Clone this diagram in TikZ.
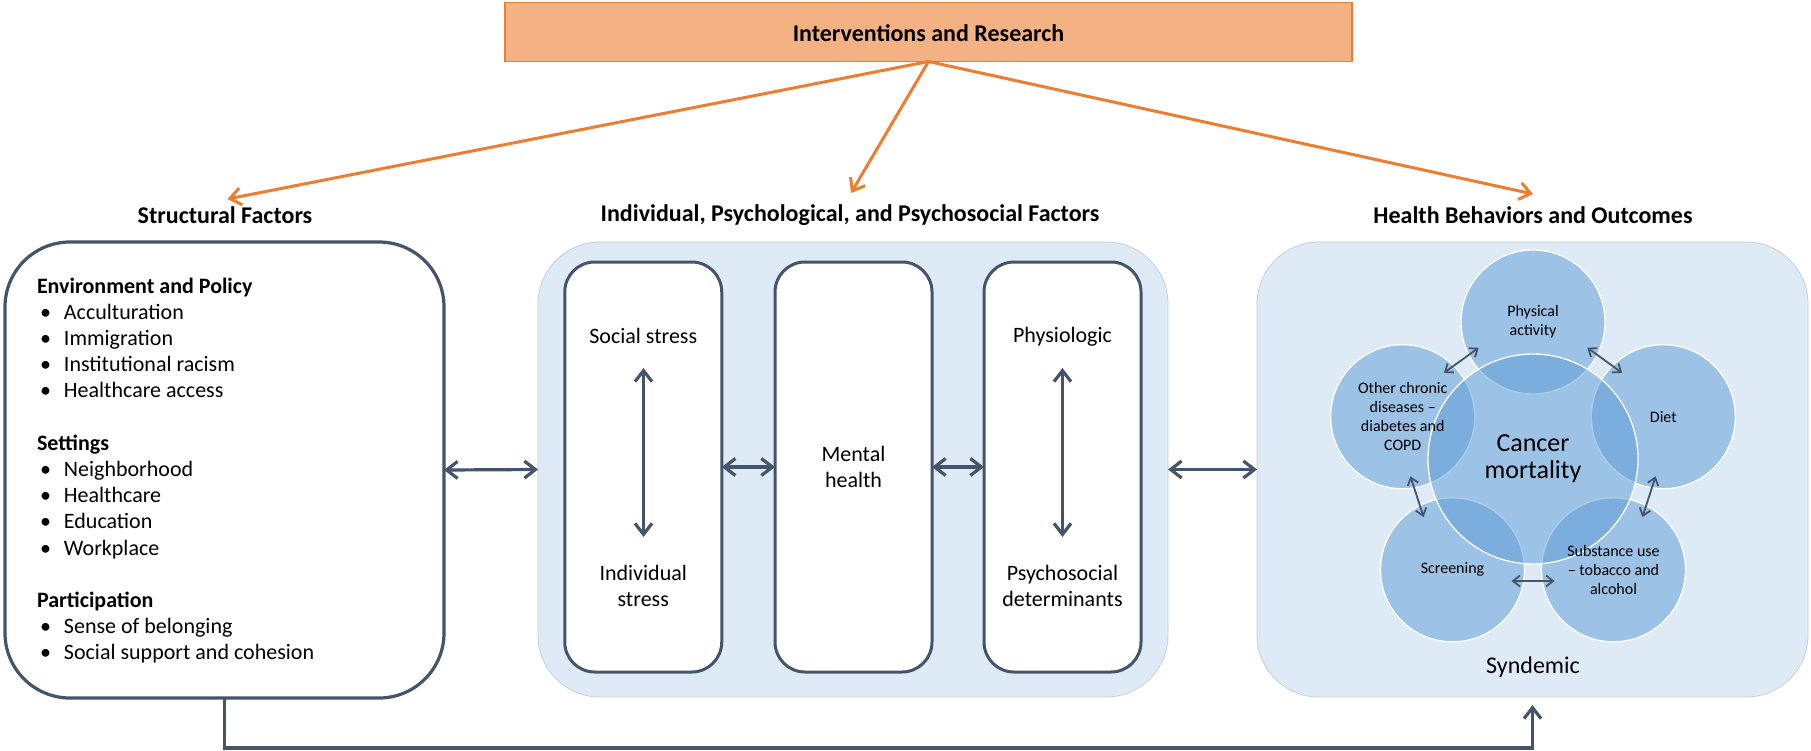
\documentclass[tikz,border=0pt]{standalone}
\usepackage{fontspec}
\setmainfont{Carlito}
\usetikzlibrary{arrows.meta,calc}
\definecolor{dk}{HTML}{44546A}
\definecolor{org}{HTML}{ED7D31}
\definecolor{orgfill}{HTML}{F4B183}
\definecolor{bgb}{HTML}{DEEBF7}
\definecolor{bgbd}{HTML}{C5CFDA}
\definecolor{cb}{HTML}{5B9BD5}
\begin{document}
\begin{tikzpicture}[x=1pt,y=-1pt,
  every node/.style={inner sep=0pt, outer sep=0pt},
  bigbox/.style={rectangle, rounded corners=65pt, draw=dk, line width=3.2pt, fill=white},
  bluebox/.style={rectangle, rounded corners=62pt, draw=bgbd, line width=0.8pt, fill=bgb},
  innerbox/.style={rectangle, rounded corners=30pt, draw=dk, line width=3pt, fill=white, minimum width=157pt, minimum height=410pt},
  topbox/.style={rectangle, draw=org, line width=1.5pt, fill=orgfill, minimum width=847pt, minimum height=59pt},
  title/.style={font=\fontsize{24}{28}\selectfont\bfseries},
  ltext/.style={anchor=base west, font=\fontsize{22}{26}\selectfont},
  mtext/.style={align=center, font=\fontsize{22}{26}\selectfont},
  ctext/.style={align=center, font=\fontsize{16}{19}\selectfont},
  circ/.style={circle, draw=white, line width=1.3pt, fill=cb, fill opacity=0.5},
  darr/.style={draw=dk, line width=3.2pt, {Straight Barb[length=11pt,width=17pt]}-{Straight Barb[length=11pt,width=17pt]}},
  uarr/.style={draw=dk, line width=3.2pt, -{Straight Barb[length=11pt,width=17pt]}},
  sarr/.style={draw=dk, line width=1.8pt, {Straight Barb[length=7pt,width=11pt]}-{Straight Barb[length=7pt,width=11pt]}},
  oarr/.style={draw=org, line width=3pt, -{Straight Barb[length=11pt,width=17pt]}}
]
\fill[white] (0,0) rectangle (1811,750);
\useasboundingbox (0,0) rectangle (1811,750);

% top box
\node[topbox] (top) at (928.5,32) {};
\node[title] (toptxt) at (928.5,33) {Interventions and Research};

% section titles
\node[title] (t1) at (225,215) {Structural Factors};
\node[title] (t2) at (850,215) {Individual, Psychological, and Psychosocial Factors};
\node[title] (t3) at (1533,215) {Health Behaviors and Outcomes};

\coordinate (tl) at (227.5,199);
\coordinate (tm) at (851,193);
\coordinate (tr) at (1533,194);
\draw[oarr] (top.south) -- (tl);
\draw[oarr] (top.south) -- (tm);
\draw[oarr] (top.south) -- (tr);

% left box
\node[bigbox, minimum width=439pt, minimum height=456pt] (left) at (224.5,470) {};
\newcommand{\bl}[1]{\makebox[27pt][l]{\hspace{3pt}\textbullet}#1}
\node[ltext] (h1) at (37,293) {\bfseries Environment and Policy};
\node[ltext] (b1) at (37,319.2) {\bl{Acculturation}};
\node[ltext] (b2) at (37,345.4) {\bl{Immigration}};
\node[ltext] (b3) at (37,371.6) {\bl{Institutional racism}};
\node[ltext] (b4) at (37,397.8) {\bl{Healthcare access}};
\node[ltext] (h2) at (37,450.2) {\bfseries Settings};
\node[ltext] (b5) at (37,476.4) {\bl{Neighborhood}};
\node[ltext] (b6) at (37,502.6) {\bl{Healthcare}};
\node[ltext] (b7) at (37,528.8) {\bl{Education}};
\node[ltext] (b8) at (37,555) {\bl{Workplace}};
\node[ltext] (h3) at (37,607.4) {\bfseries Participation};
\node[ltext] (b9) at (37,633.6) {\bl{Sense of belonging}};
\node[ltext] (b10) at (37,659.8) {\bl{Social support and cohesion}};

% middle box
\node[bluebox, minimum width=630pt, minimum height=455pt] (mid) at (853,469.5) {};
\node[innerbox] (in1) at (643.25,467) {};
\node[innerbox] (in2) at (853.5,467) {};
\node[innerbox] (in3) at (1062.5,467) {};
\node[mtext] (ss) at (643.25,336) {Social stress};
\node[mtext] (is) at (643.25,586) {Individual\\stress};
\node[mtext] (mh) at (853.5,467) {Mental\\health};
\node[mtext] (ph) at (1062.5,337) {Physiologic};
\node[mtext] (pd) at (1062.5,586) {Psychosocial\\determinants};
\coordinate (v1a) at (643.5,368);
\coordinate (v1b) at (643.5,537);
\coordinate (v2a) at (1062.5,368);
\coordinate (v2b) at (1062.5,537);
\draw[darr] (v1a) -- (v1b);
\draw[darr] (v2a) -- (v2b);
\draw[darr] (in1.east) -- (in2.west);
\draw[darr] (in2.east) -- (in3.west);

% right box
\node[bluebox, minimum width=551pt, minimum height=455pt] (right) at (1532.5,469.5) {};
\node[circ, minimum size=144pt] (pa) at (1533,322) {};
\node[circ, minimum size=144pt] (di) at (1663.3,416.7) {};
\node[circ, minimum size=144pt] (su) at (1613.5,569.8) {};
\node[circ, minimum size=144pt] (sc) at (1452.5,569.8) {};
\node[circ, minimum size=144pt] (oc) at (1402.7,416.7) {};
\node[circ, minimum size=210pt] (cm) at (1533,459) {};
\node[ctext] (tpa) at (pa) {Physical\\activity};
\node[ctext] (tdi) at (di) {Diet};
\node[ctext] (tsu) at (su) {Substance use\\-- tobacco and\\alcohol};
\node[ctext] (tsc) at (sc) {Screening};
\node[ctext] (toc) at (oc) {Other chronic\\diseases --\\diabetes and\\COPD};
\node[align=center, font=\fontsize{26}{27}\selectfont] (tcm) at (cm) {Cancer\\mortality};
\node[font=\fontsize{24}{28}\selectfont] (syn) at (1533,667) {Syndemic};

\coordinate (a1s) at (1443.9,372.9); \coordinate (a1e) at (1478.7,347.7);
\coordinate (a2s) at (1587.3,347.7); \coordinate (a2e) at (1622.1,372.9);
\coordinate (a3s) at (1655.6,476.3); \coordinate (a3e) at (1642.4,517.1);
\coordinate (a4s) at (1554.5,581);   \coordinate (a4e) at (1511.5,581);
\coordinate (a5s) at (1410.4,476.3); \coordinate (a5e) at (1423.6,517.1);
\draw[sarr] (a1s) -- (a1e);
\draw[sarr] (a2s) -- (a2e);
\draw[sarr] (a3s) -- (a3e);
\draw[sarr] (a4s) -- (a4e);
\draw[sarr] (a5s) -- (a5e);

% connectors between panels
\draw[darr] (left.east) -- (mid.west);
\draw[darr] (mid.east) -- (right.west);
\coordinate (bot) at (224.5,748);
\draw[uarr] (left.south) -- (bot) -| ([yshift=-8pt]right.south);
\end{tikzpicture}
\end{document}
